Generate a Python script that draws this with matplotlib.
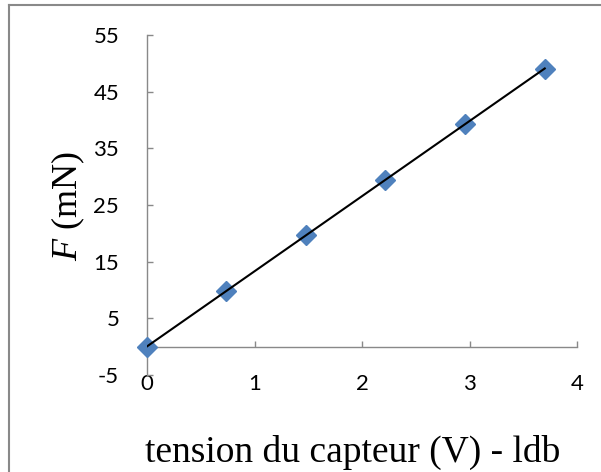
import numpy as np
import matplotlib
matplotlib.use("Agg")
import matplotlib.pyplot as plt
from matplotlib.lines import Line2D

# data
tension = [0.0, 0.735, 1.475, 2.215, 2.955, 3.70]
force = [0.0, 9.81, 19.62, 29.43, 39.24, 49.05]
xticks = [0, 1, 2, 3, 4]
yticks = [-5, 5, 15, 25, 35, 45, 55]
xlabel = "tension du capteur (V) - ldb"
ylabel = r"$F$ (mN)"

plt.rcParams['font.family'] = ['Lato', 'DejaVu Sans']
plt.rcParams['mathtext.fontset'] = 'custom'
plt.rcParams['mathtext.rm'] = 'Liberation Serif'
plt.rcParams['mathtext.it'] = 'Liberation Serif:italic'

W, H = 601, 472
fig = plt.figure(figsize=(W / 100, H / 100), dpi=100)
ax = fig.add_axes([147 / W, 1 - 375 / H, (577 - 147) / W, (375 - 35) / H])

gray = '#898989'
for s in ['top', 'right']:
    ax.spines[s].set_visible(False)
ax.spines['bottom'].set_position(('data', 0))
for s in ['bottom', 'left']:
    ax.spines[s].set_color(gray)
    ax.spines[s].set_linewidth(1.0)

ax.set_xlim(0, 4)
ax.set_ylim(-5, 55)
ax.set_xticks(xticks)
ax.set_yticks(yticks)
ax.set_xticklabels([str(v) for v in xticks])
ax.set_yticklabels([str(v) for v in yticks])
ax.tick_params(axis='both', direction='in', length=4.5, width=1.0, color=gray,
               pad=20, labelcolor='black', labelsize=16)

# trendline (linear fit through data)
coef = np.polyfit(tension, force, 1)
xfit = np.array([min(tension), max(tension)])

ax.plot(tension, force, linestyle='none', marker='D', markersize=10,
        color='#4F81BD', markeredgecolor='#4F81BD', zorder=4, clip_on=False)
ax.plot(xfit, np.polyval(coef, xfit), color='black', lw=1.5, zorder=5)

fig.text(353 / W, 1 - 462 / H, xlabel, ha='center', va='baseline',
         fontfamily='Liberation Serif', fontsize=27)
fig.text(68 / W, 1 - 206 / H, ylabel, ha='center', va='center', rotation=90,
         fontfamily='Liberation Serif', fontsize=26)

# chart area border (only left and top visible)
fig.add_artist(Line2D([9 / W, 9 / W], [0, 1 - 5 / H], transform=fig.transFigure,
                      color=gray, lw=1.5))
fig.add_artist(Line2D([9 / W, 1], [1 - 5 / H, 1 - 5 / H], transform=fig.transFigure,
                      color=gray, lw=1.5))

fig.savefig('out.png', dpi=100)
